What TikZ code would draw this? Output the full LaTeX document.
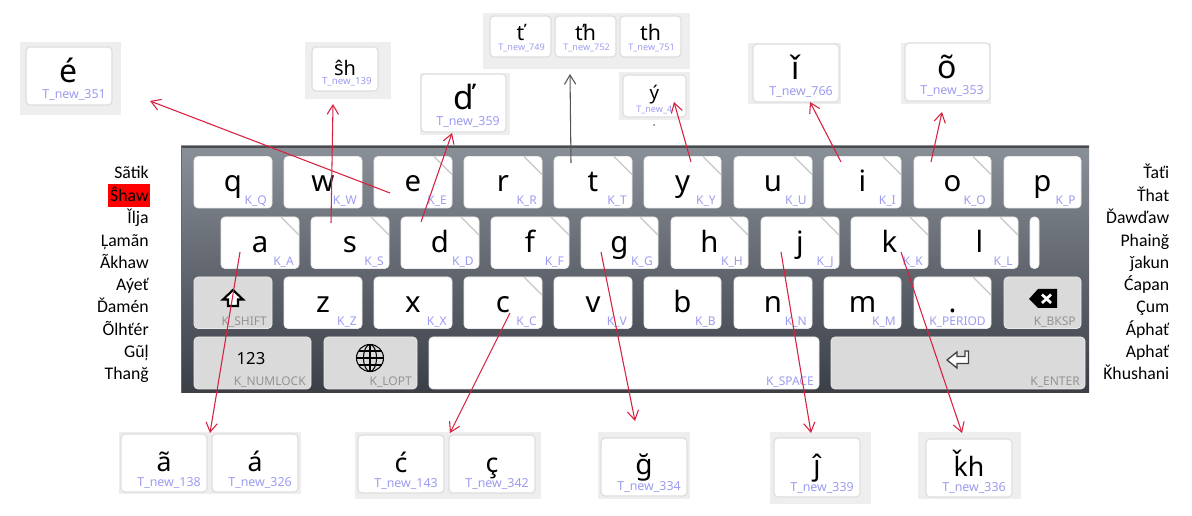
\documentclass[tikz,border=0pt]{standalone}
\usepackage{fontspec}
\usetikzlibrary{arrows.meta}
\setmainfont{Noto Sans}
\newfontfamily\listfont{Carlito}
\definecolor{lab}{HTML}{9C9CF2}
\definecolor{glab}{HTML}{949494}
\definecolor{keyg}{HTML}{DADADA}
\definecolor{popbg}{HTML}{EEEEEE}
\definecolor{popedge}{HTML}{DEDEDE}
\definecolor{arr}{HTML}{D8203F}
\definecolor{darr}{HTML}{555555}
\definecolor{kbt}{HTML}{8A9097}
\definecolor{kbb}{HTML}{3A3E47}
\newcommand{\fs}[1]{\fontsize{#1}{#1}\selectfont}
% box: name,x1,y1,x2,y2,style
\newcommand{\bx}[6]{%
  \pgfmathsetmacro{\bw}{(#4-#2)*0.75}\pgfmathsetmacro{\bh}{(#5-#3)*0.75}%
  \node[#6,minimum width=\bw pt,minimum height=\bh pt] (#1) at ({(#2+#4)/2},{(#3+#5)/2}) {};}
% key: name,x1,row top,x2,letter,label
\newcommand{\kk}[6]{%
  \bx{#1}{#2}{#3}{#4}{#3+51.5}{keybox}%
  \node[letter] (#1t) at ({(#2+#4)/2},#3+35.5) {#5};%
  \node[keylab] (#1l) at (#4-5,#3+48.5) {#6};}
% corner mark
\newcommand{\cm}[1]{\draw[corner] ([xshift=-13.5pt]#1.north east) -- ([yshift=-13.5pt]#1.north east);}
% grey key: name,x1,y1,x2,y2,label
\newcommand{\gk}[7][]{%
  \bx{#2}{#3}{#4}{#5}{#6}{keybox,fill=keyg,#1}%
  \node[keylab,text=glab] (#2l) at (#5-5,#4+48.5) {#7};}
% popup key: name,x1,y1,x2,y2,size,letter,labelsize,label
\newcommand{\pk}[9]{%
  \bx{#1}{#2}{#3}{#4}{#5}{popkey}%
  \node[anchor=base,inner sep=0pt,text=black] (#1t) at ({(#2+#4)/2},{#5-min(1.05*#6,22)}) {\fs{#6}#7};%
  \node[anchor=base east,inner sep=0pt,text=lab] (#1l) at (#4-6,#5-6) {\fs{#8}T\_new\_#9};}
\tikzset{
  x=0.75pt,y=-0.75pt,
  keybox/.style={draw=white!92!black,line width=0.5pt,fill=white,rounded corners=3pt,inner sep=0pt,outer sep=0pt},
  popkey/.style={draw=popedge,line width=0.9pt,fill=white,rounded corners=3pt,inner sep=0pt,outer sep=0pt},
  popbgbox/.style={fill=popbg,draw=none,inner sep=0pt,outer sep=0pt},
  letter/.style={anchor=base,inner sep=0pt,text=black,font=\fs{22}},
  keylab/.style={anchor=base east,inner sep=0pt,text=lab,font=\fs{9}},
  corner/.style={draw=black!22,line width=0.9pt},
  ra/.style={draw=arr,line width=0.8pt,-{Straight Barb[length=7pt,width=8.5pt,line width=0.8pt]}},
  ga/.style={ra,draw=darr},
  listl/.style={anchor=base east,inner sep=0pt,font=\listfont\fs{13.3},text=black},
}
\begin{document}
\begin{tikzpicture}
\useasboundingbox (0,0) rectangle (1192,516);
\fill[white] (0,0) rectangle (1192,516);
% keyboard
\pgfmathsetmacro{\kw}{908*0.75}\pgfmathsetmacro{\kh}{247*0.75}
\node[top color=kbt,bottom color=kbb,minimum width=\kw pt,minimum height=\kh pt,inner sep=0pt,outer sep=0pt] (board) at (635,269.5) {};
\fill[black!70] (board.north west) rectangle ([yshift=-1.4pt]board.north east);
\fill[black!75] (board.south west) rectangle ([yshift=1.8pt]board.south east);
\fill[black!60] (board.north west) rectangle ([xshift=0.8pt]board.south west);
% row 1
\kk{q}{194}{156.5}{272}{q}{K\_Q}
\kk{w}{284}{156.5}{362}{w}{K\_W}
\kk{e}{374}{156.5}{452}{e}{K\_E}
\kk{r}{464}{156.5}{542}{r}{K\_R}
\kk{t}{554}{156.5}{632}{t}{K\_T}
\kk{y}{644}{156.5}{721}{y}{K\_Y}
\kk{u}{734}{156.5}{812}{u}{K\_U}
\kk{i}{824}{156.5}{901}{i}{K\_I}
\kk{o}{914}{156.5}{991}{o}{K\_O}
\kk{p}{1004}{156.5}{1081}{p}{K\_P}
% row 2
\kk{a}{221}{217}{299}{a}{K\_A}
\kk{s}{311}{217}{389}{s}{K\_S}
\kk{d}{401}{217}{479}{d}{K\_D}
\kk{f}{491}{217}{569}{f}{K\_F}
\kk{g}{581}{217}{658}{g}{K\_G}
\kk{h}{671}{217}{748}{h}{K\_H}
\kk{j}{761}{217}{839}{j}{K\_J}
\kk{k}{851}{217}{928}{k}{K\_K}
\kk{l}{941}{217}{1018}{l}{K\_L}
\bx{tiny}{1030}{217}{1039}{268.5}{keybox}
% row 3
\gk{shift}{194}{277}{272}{328.5}{K\_SHIFT}
\kk{z}{284}{277}{362}{z}{K\_Z}
\kk{x}{374}{277}{452}{x}{K\_X}
\kk{c}{464}{277}{542}{c}{K\_C}
\kk{v}{554}{277}{632}{v}{K\_V}
\kk{b}{644}{277}{721}{b}{K\_B}
\kk{n}{734}{277}{812}{n}{K\_N}
\kk{m}{824}{277}{901}{m}{K\_M}
\kk{per}{914}{277}{991}{.}{K\_PERIOD}
\gk{bksp}{1004}{277}{1081}{328.5}{K\_BKSP}
% row 4
\gk{num}{194}{337}{311}{389}{K\_NUMLOCK}
\gk{lopt}{324}{337}{417}{389}{K\_LOPT}
\bx{space}{429}{337}{819}{389}{keybox}
\node[keylab] (spacel) at (814,385.5) {K\_SPACE};
\gk{enter}{831}{337}{1085}{389}{K\_ENTER}
\foreach \n in {e,r,t,y,u,i,o,a,s,d,f,g,h,j,k,l,c,per} {\cm{\n}}
\node[anchor=base,inner sep=0pt,font=\fs{12.5},text=black] (numt) at (251,365) {123};
% shift icon
\draw[line width=1.6pt,fill=white,line join=miter] (233,290) -- (243,299.5) -- (238,299.5) -- (238,306) -- (228,306) -- (228,299.5) -- (223,299.5) -- cycle;
% globe
\begin{scope}[shift={(370,358)},line width=0.8pt]
\draw (0,0) circle[radius=13.5];
\draw (0,0) ellipse[x radius=6.5,y radius=13.5];
\draw (0,-13.5) -- (0,13.5) (-13.5,0) -- (13.5,0) (-11.5,-7) -- (11.5,-7) (-11.5,7) -- (11.5,7);
\end{scope}
% backspace icon
\fill[black] (1029,299) -- (1038,289) -- (1057,289) -- (1057,308) -- (1038,308) -- cycle;
\draw[white,line width=2pt] (1042,294.5) -- (1051,303) (1051,294.5) -- (1042,303);
% enter icon
\draw[line width=1pt,black!75,fill=white,line join=miter] (947,360) -- (957,352) -- (957,356.5) -- (965,356.5) -- (965,351) -- (968.5,351) -- (968.5,363.5) -- (957,363.5) -- (957,368) -- cycle;
% popup backgrounds
\bx{bgA}{20}{42}{121}{115}{popbgbox}
\bx{bgB}{305}{42}{391}{99}{popbgbox}
\bx{bgC}{420}{73}{510}{135}{popbgbox}
\bx{bgD}{483}{13}{690}{69}{popbgbox}
\bx{bgE}{619}{72}{690}{120}{popbgbox}
\bx{bgF}{748}{43}{841}{104}{popbgbox}
\bx{bgG}{901}{43}{991}{104}{popbgbox}
\bx{bgH}{119}{432}{301}{494}{popbgbox}
\bx{bgI}{355}{432}{541}{499}{popbgbox}
\bx{bgJ}{598}{432}{690}{499}{popbgbox}
\bx{bgK}{770}{432}{871}{504}{popbgbox}
\bx{bgL}{918}{432}{1021}{499}{popbgbox}
% popup keys
\pk{pe}{26}{47}{112}{105}{24}{é}{9.3}{351}
\pk{psh}{312}{47}{378}{91}{15}{ŝh}{7.3}{139}
\pk{pd}{421}{74}{506}{132}{25}{ď}{9.3}{359}
\pk{pt1}{490}{16}{551}{57}{16}{ť}{6.8}{749}
\pk{pt2}{555}{16}{616}{57}{16}{ťh}{6.8}{752}
\pk{pt3}{620}{16}{681}{57}{16}{th}{6.8}{751}
\bx{py}{623}{75}{686}{117}{popkey}
\node[anchor=base,inner sep=0pt,text=black,font=\fs{14}] (pyt) at (654.5,100) {ý};
\node[anchor=base west,inner sep=0pt,text=lab,font=\fs{6.8}] (pyl) at (636,113) {T\_new\_4};
\pk{pi}{753}{44}{839}{102}{24}{ǐ}{9.3}{766}
\pk{po}{905}{43}{990}{101}{24}{õ}{9.3}{353}
\pk{pa}{121}{434}{207}{492}{20}{ã}{9.3}{138}
\pk{paa}{212}{434}{298}{492}{20}{á}{9.3}{326}
\pk{pc}{358}{435}{444}{493}{20}{ć}{9.3}{143}
\pk{pcc}{449}{435}{535}{493}{20}{ç}{9.3}{342}
\pk{pg}{601}{438}{687}{496}{21}{ğ}{9.3}{334}
\pk{pj}{774}{438}{860}{497}{21}{ĵ}{9.3}{339}
\pk{pk}{926}{439}{1012}{497}{20}{ǩh}{9.3}{336}
\fill[black!55] (654,125) circle[radius=1];
% name lists
\fill[red] (108,184) rectangle (150,207);
\foreach \nm/\yy/\tx in {la/179/Sãtik,lb/202/Ŝhaw,lc/224/Ǐlja,ld/246.5/Ļamãn,le/269/Ãkhaw,lf/291/Aýeť,lg/313/Ďamén,lh/336/Õlhťér,li/358/Gũļ,lj/380/Thanğ}
  {\node[listl] (\nm) at (149,\yy) {\tx};}
\foreach \nm/\yy/\tx in {ra/179/Ťaťi,rb/202/Ťhat,rc/224/Ďawďaw,rd/246.5/Phainğ,re/269/ǰakun,rf/291/Ćapan,rg/313/Çum,rh/336/Áphať,ri/358/Aphať,rj/380/Ǩhushani}
  {\node[listl] (\nm) at (1169.5,\yy) {\tx};}
% connector ends
\coordinate (s1) at (390,193); \coordinate (e1) at (150,101);
\coordinate (s2) at (331,223); \coordinate (e2) at (333,104);
\coordinate (s3) at (421,222); \coordinate (e3) at (452,133);
\coordinate (s4) at (571,163); \coordinate (e4) at (570,74);
\coordinate (s5) at (691,162); \coordinate (e5) at (674,102);
\coordinate (s6) at (841,162); \coordinate (e6) at (810,102);
\coordinate (s7) at (931,162); \coordinate (e7) at (942,112);
\coordinate (s8) at (240,252); \coordinate (e8) at (210,433);
\coordinate (s9) at (510,313); \coordinate (e9) at (450,433);
\coordinate (s10) at (601,252); \coordinate (e10) at (635,421);
\coordinate (s11) at (781,252); \coordinate (e11) at (811,433);
\coordinate (s12) at (901,252); \coordinate (e12) at (962,433);
\foreach \i in {1,2,3,5,6,7,8,9,10,11,12} {\draw[ra] (s\i) -- (e\i);}
\draw[ga] (s4) -- (e4);
\end{tikzpicture}
\end{document}
